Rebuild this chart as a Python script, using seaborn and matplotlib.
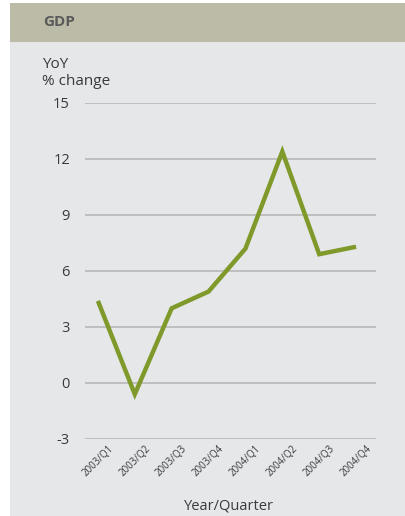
import matplotlib
matplotlib.use("Agg")
import matplotlib.pyplot as plt
import numpy as np
import pandas as pd
import seaborn as sns
from matplotlib.patches import Rectangle

quarters = ["2003/Q1", "2003/Q2", "2003/Q3", "2003/Q4",
            "2004/Q1", "2004/Q2", "2004/Q3", "2004/Q4"]
gdp_yoy = [4.4, -0.6, 4.0, 4.9, 7.2, 12.4, 6.9, 7.3]
y_ticks = [-3, 0, 3, 6, 9, 12, 15]

BG = "#e6e7e9"
HEADER = "#bcbba7"
LINE = "#7f9a2a"
TEXT = "#3a3a3a"
GRID = "#b8b8b8"

sns.set_theme(style="white")
plt.rcParams["font.family"] = ["Open Sans", "DejaVu Sans"]

W, H = 406, 516
fig = plt.figure(figsize=(W / 100, H / 100), dpi=100, facecolor="white")

# background panels
fig.add_artist(Rectangle((10 / W, 0), 1 - 10 / W, 1 - 3 / H,
                         transform=fig.transFigure, facecolor=BG,
                         edgecolor="none", zorder=-10))
fig.add_artist(Rectangle((10 / W, 1 - 42 / H), 1 - 10 / W, 39 / H,
                         transform=fig.transFigure, facecolor=HEADER,
                         edgecolor="none", zorder=-9))

ax = fig.add_axes([85 / W, 1 - 439 / H, (376 - 85) / W, (439 - 103) / H])
ax.set_facecolor(BG)

df = pd.DataFrame({"pos": np.arange(len(quarters)), "value": gdp_yoy})
sns.lineplot(data=df, x="pos", y="value", ax=ax, color=LINE, linewidth=3.2,
             solid_joinstyle="miter", solid_capstyle="butt")

ax.set_xlim(-0.35, len(quarters) - 1 + 0.54)
ax.set_ylim(-3, 15)
ax.set_yticks(y_ticks)
ax.set_yticklabels([str(t) for t in y_ticks], fontsize=10.5, color=TEXT)
ax.set_xticks(np.arange(len(quarters)))
ax.set_xticklabels(quarters, rotation=45, ha="center", fontsize=7, color=TEXT)
ax.tick_params(axis="y", length=0, pad=10.8)
ax.tick_params(axis="x", length=0, pad=3)
ax.grid(axis="y", color=GRID, linewidth=1.2)
ax.grid(axis="x", visible=False)
ax.set_axisbelow(True)
for s in ax.spines.values():
    s.set_visible(False)

ax.set_xlabel("")
ax.set_ylabel("")

fig.text(43 / W, 1 - 22.5 / H, "GDP", fontsize=11, fontweight="bold",
         color="#5a5a5a", ha="left", va="center")
fig.text(42 / W, 1 - 85 / H, "YoY\n% change", fontsize=11, color=TEXT,
         ha="left", va="baseline", linespacing=1.15)
fig.text(229 / W, 1 - 510 / H, "Year/Quarter", fontsize=10.5, color=TEXT,
         ha="center", va="baseline")

fig.savefig("out.png", dpi=100, facecolor=fig.get_facecolor())
